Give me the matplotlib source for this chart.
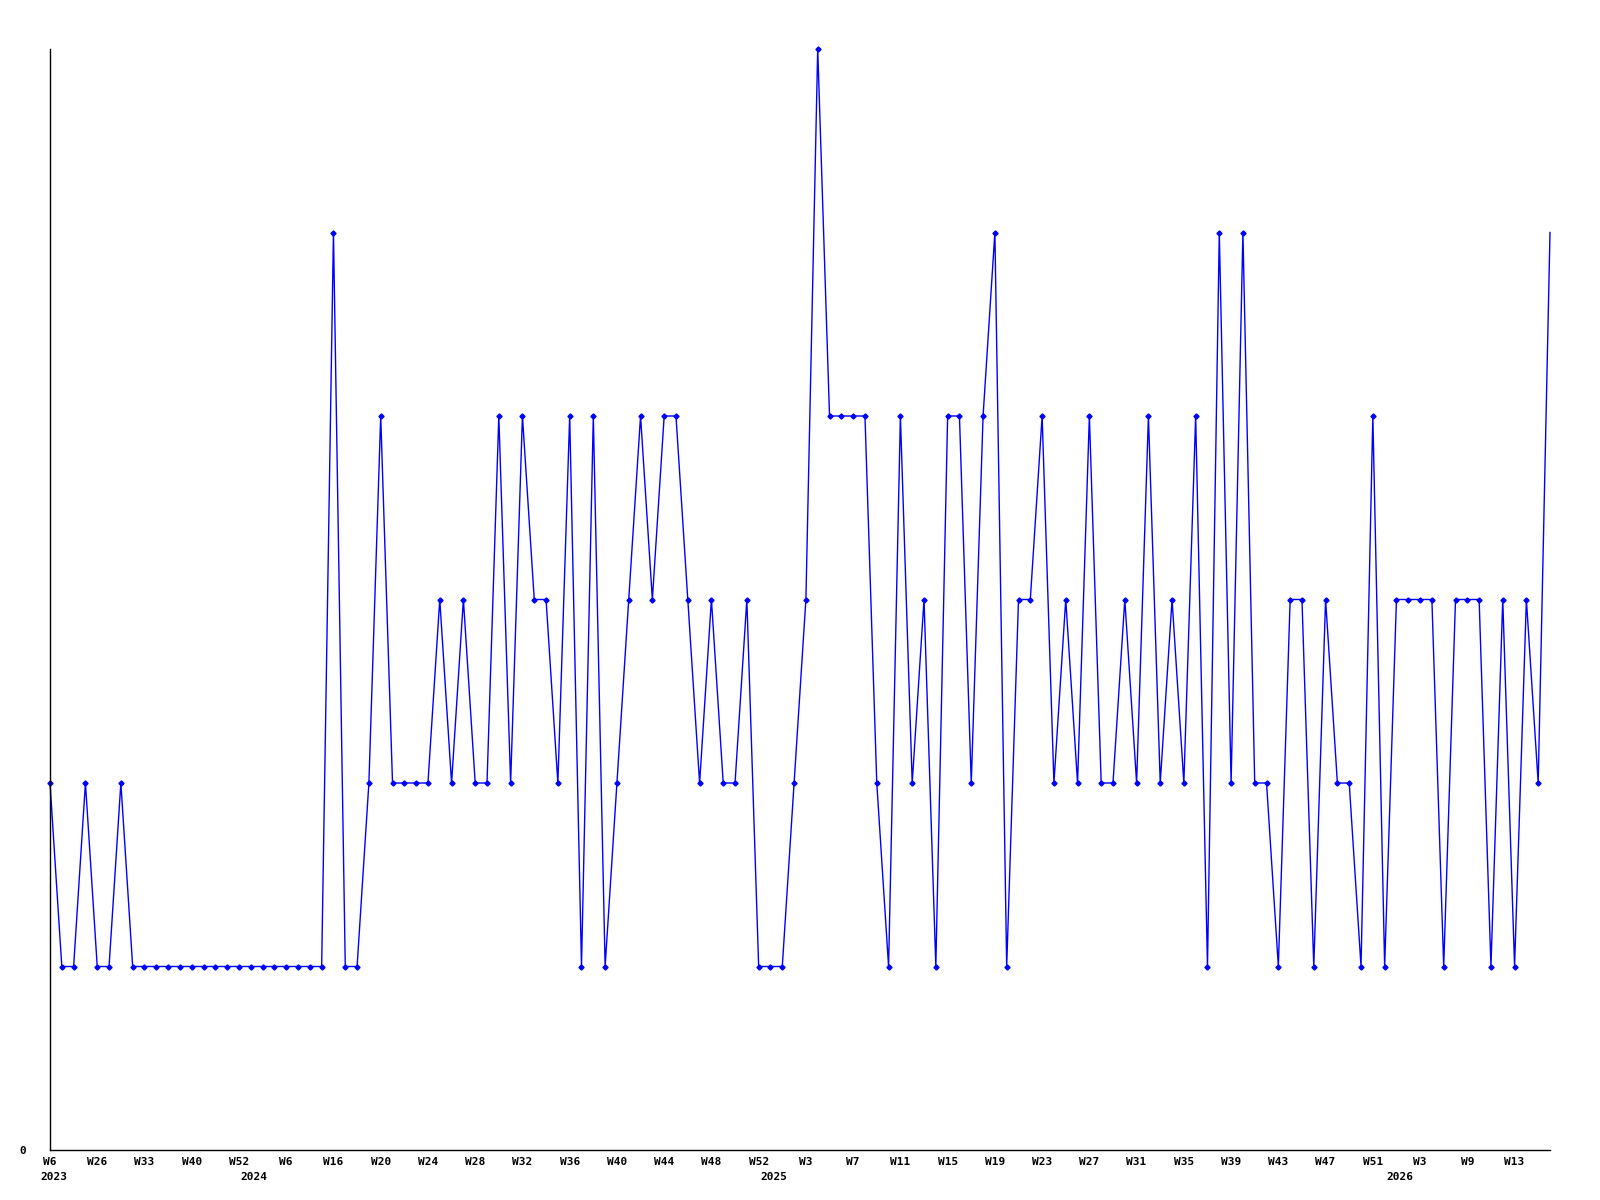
import matplotlib
matplotlib.use("Agg")
import matplotlib.pyplot as plt

values = [2, 1, 1, 2, 1, 1, 2,
          1, 1, 1, 1, 1, 1, 1, 1, 1, 1, 1, 1, 1, 1, 1, 1, 1,
          5, 1, 1, 2, 4, 2, 2, 2, 2, 3, 2, 3, 2, 2, 4, 2, 4, 3, 3, 2, 4, 1, 4, 1,
          2, 3, 4, 3, 4, 4, 3, 2, 3, 2, 2, 3, 1, 1, 1, 2, 3, 6, 4, 4, 4, 4, 2, 1,
          4, 2, 3, 1, 4, 4, 2, 4, 5, 1, 3, 3, 4, 2, 3, 2, 4, 2, 2, 3, 2, 4, 2, 3,
          2, 4, 1, 5, 2, 5, 2, 2, 1, 3, 3, 1, 3, 2, 2, 1, 4, 1, 3, 3, 3, 3, 1, 3,
          3, 3, 1, 3, 1, 3, 2, 5]

week_labels = ["W6", "W26", "W33", "W40", "W52", "W6", "W16", "W20", "W24", "W28",
               "W32", "W36", "W40", "W44", "W48", "W52", "W3", "W7", "W11", "W15",
               "W19", "W23", "W27", "W31", "W35", "W39", "W43", "W47", "W51", "W3",
               "W9", "W13"]
week_label_step = 4

year_labels = ["2023", "2024", "2025", "2026"]
year_positions = [0, 17, 61, 114]

fig = plt.figure(figsize=(16, 12), dpi=100)
ax = fig.add_axes([50/1600, 50/1200, 1500/1600, 1101/1200])

x = list(range(len(values)))
ax.plot(x, values, color="#0000ff", linewidth=1.0, marker="D", markersize=2.6,
        markerfacecolor="#0000ff", markeredgecolor="#0000ff", clip_on=False,
        markevery=list(range(len(values) - 1)))

ax.set_xlim(0, len(values) - 1)
ax.set_ylim(0, 6)

for s in ["top", "right"]:
    ax.spines[s].set_visible(False)
for s in ["left", "bottom"]:
    ax.spines[s].set_color("black")
    ax.spines[s].set_linewidth(1.0)

font = dict(family="DejaVu Sans Mono", weight="bold", size=8)

ax.set_xticks([i * week_label_step for i in range(len(week_labels))])
ax.set_xticklabels(week_labels, **font)
ax.set_yticks([0])
ax.set_yticklabels(["0"], **font)
ax.tick_params(axis="x", length=0, pad=5)
ax.tick_params(axis="y", length=0, pad=17)

for lbl, pos in zip(year_labels, year_positions):
    ax.annotate(lbl, xy=(pos, 0), xycoords=("data", "axes fraction"),
                xytext=(-10, -22), textcoords="offset pixels",
                ha="left", va="top", **font)

fig.savefig("out.png", dpi=100, facecolor="white")
